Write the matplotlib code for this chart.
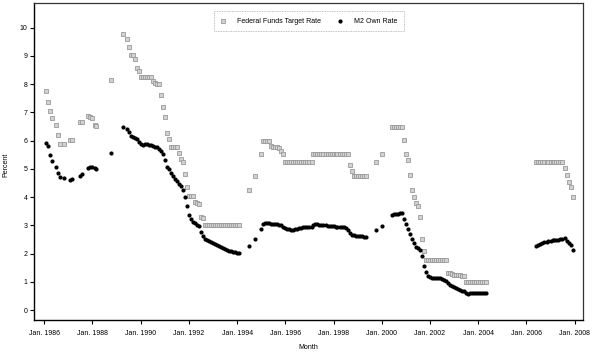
import matplotlib
matplotlib.use("Agg")
import matplotlib.pyplot as plt
import numpy as np
import pandas as pd

plt.rcParams["font.family"] = ["Liberation Sans", "DejaVu Sans"]

# months counted from Jan. 1986
FED_MONTHS = [
    1, 2, 3, 4, 6, 7, 8, 10, 13, 14, 18, 19, 22, 23, 24, 25, 26, 33,
    39, 41, 42, 43, 44, 45, 46, 47, 48, 49, 50, 51, 52, 53, 54, 55, 56, 57,
    58, 59, 60, 61, 62, 63, 64, 65, 66, 67, 68, 69, 70, 71, 72, 73, 74, 75,
    76, 77, 78, 79, 80, 81, 82, 83, 84, 85, 86, 87, 88, 89, 90, 91, 92, 93,
    94, 95, 96, 97,
    102, 105, 108, 109, 110, 111, 112, 113, 114, 115, 116, 117, 118, 119,
    120, 121, 122, 123, 124, 125, 126, 127, 128, 129, 130, 131, 132, 133,
    134, 135, 136, 137, 138, 139, 140, 141, 142, 143, 144, 145, 146, 147,
    148, 149, 150, 151, 152, 153, 154, 155, 156, 157, 158, 159, 160,
    165, 168, 173, 174, 175, 176, 177, 178, 179, 180, 181, 182, 183, 184,
    185, 186, 187, 188, 189, 190, 191, 192, 193, 194, 195, 196, 197, 198,
    199, 200, 201, 202, 203, 204, 205, 206, 207, 208, 209, 210, 211, 212,
    213, 214, 215, 216, 217, 218, 219, 220,
    245, 246, 247, 248, 249, 250, 251, 252, 253, 254, 255, 256, 257, 258,
    259, 260, 261, 262, 263,
]
FED_RATE = [
    7.77, 7.38, 7.06, 6.79, 6.56, 6.2, 5.88, 5.88, 6.03, 6.03, 6.65, 6.65,
    6.88, 6.85, 6.82, 6.56, 6.52, 8.15,
    9.78, 9.61, 9.31, 9.03, 9.03, 8.89, 8.56, 8.47, 8.25, 8.25, 8.25, 8.25,
    8.25, 8.25, 8.1, 8.03, 8.0, 8.0,
    7.62, 7.2, 6.83, 6.28, 6.05, 5.79, 5.79, 5.79, 5.79, 5.56, 5.35, 5.24,
    4.81, 4.37, 4.04, 4.04, 4.04, 3.84,
    3.79, 3.76, 3.28, 3.26, 3.0, 3.0, 3.0, 3.0, 3.0, 3.0, 3.0, 3.0, 3.0,
    3.0, 3.0, 3.0, 3.0, 3.0,
    3.0, 3.0, 3.0, 3.0,
    4.26, 4.75, 5.52, 6.0, 6.0, 6.0, 6.0, 5.82, 5.79, 5.77, 5.76, 5.75,
    5.65, 5.52,
    5.26, 5.26, 5.26, 5.26, 5.26, 5.26, 5.26, 5.26, 5.26, 5.26, 5.26, 5.26,
    5.26, 5.26,
    5.52, 5.52, 5.52, 5.52, 5.52, 5.52, 5.52, 5.52, 5.52, 5.52, 5.52, 5.52,
    5.52, 5.52,
    5.52, 5.52, 5.52, 5.52, 5.14, 4.93, 4.75, 4.75, 4.75, 4.75, 4.75, 4.75,
    4.75,
    5.26, 5.52, 6.5, 6.5, 6.5, 6.5, 6.5, 6.5, 6.03, 5.52, 5.32, 4.79, 4.26,
    4.0,
    3.79, 3.67, 3.28, 2.52, 2.1, 1.76, 1.76, 1.76, 1.76, 1.76, 1.76, 1.76,
    1.76,
    1.76, 1.76, 1.76, 1.33, 1.3, 1.28, 1.26, 1.25, 1.25, 1.23, 1.21, 1.19,
    1.0, 1.0, 1.0,
    1.0, 1.0, 1.0, 1.0, 1.0, 1.0, 1.0, 1.0,
    5.26, 5.26, 5.26, 5.26, 5.26, 5.26, 5.26, 5.26, 5.26, 5.26, 5.26, 5.26,
    5.26, 5.26,
    5.02, 4.79, 4.55, 4.35, 4.0,
]

M2_MONTHS = [
    1, 2, 3, 4, 6, 7, 8, 10, 13, 14, 18, 19, 22, 23, 24, 25, 26, 33,
    39, 41, 42, 43, 44, 45, 46, 47, 48, 49, 50, 51, 52, 53, 54, 55, 56, 57,
    58, 59, 60, 61, 62, 63, 64, 65, 66, 67, 68, 69, 70, 71, 72, 73, 74, 75,
    76, 77, 78, 79, 80, 81, 82, 83, 84, 85, 86, 87, 88, 89, 90, 91, 92, 93,
    94, 95, 96, 97,
    102, 105, 108, 109, 110, 111, 112, 113, 114, 115, 116, 117, 118, 119,
    120, 121, 122, 123, 124, 125, 126, 127, 128, 129, 130, 131, 132, 133,
    134, 135, 136, 137, 138, 139, 140, 141, 142, 143, 144, 145, 146, 147,
    148, 149, 150, 151, 152, 153, 154, 155, 156, 157, 158, 159, 160,
    165, 168, 173, 174, 175, 176, 177, 178, 179, 180, 181, 182, 183, 184,
    185, 186, 187, 188, 189, 190, 191, 192, 193, 194, 195, 196, 197, 198,
    199, 200, 201, 202, 203, 204, 205, 206, 207, 208, 209, 210, 211, 212,
    213, 214, 215, 216, 217, 218, 219, 220,
    245, 246, 247, 248, 249, 250, 251, 252, 253, 254, 255, 256, 257, 258,
    259, 260, 261, 262, 263,
]
M2_RATE = [
    5.93, 5.81, 5.5, 5.29, 5.08, 4.87, 4.71, 4.68, 4.6, 4.64, 4.76, 4.82,
    5.02, 5.06, 5.07, 5.04, 4.99, 5.58,
    6.49, 6.4, 6.32, 6.16, 6.12, 6.08, 6.05, 5.95, 5.87, 5.86, 5.88, 5.88,
    5.86, 5.84, 5.81, 5.79, 5.76, 5.72,
    5.65, 5.53, 5.3, 5.08, 4.99, 4.86, 4.75, 4.66, 4.58, 4.48, 4.38, 4.24,
    4.0, 3.69, 3.37, 3.22, 3.13, 3.08,
    3.02, 2.97, 2.75, 2.63, 2.52, 2.47, 2.44, 2.41, 2.38, 2.35, 2.32, 2.28,
    2.24, 2.21, 2.17, 2.13, 2.1, 2.08,
    2.06, 2.04, 2.03, 2.01,
    2.28, 2.5, 2.88, 3.05, 3.08, 3.08, 3.07, 3.06, 3.06, 3.05, 3.04, 3.02,
    3.0, 2.96,
    2.91, 2.88, 2.86, 2.85, 2.85, 2.86, 2.88, 2.9, 2.92, 2.93, 2.94, 2.94,
    2.95, 2.96,
    3.02, 3.04, 3.04, 3.02, 3.03, 3.02, 3.0, 2.99, 2.98, 2.97, 2.97, 2.96,
    2.96, 2.95,
    2.94, 2.93, 2.9, 2.84, 2.72, 2.67, 2.65, 2.64, 2.63, 2.62, 2.61, 2.6,
    2.6,
    2.82, 2.98, 3.38, 3.4, 3.41, 3.42, 3.44, 3.45, 3.24, 3.05, 2.88, 2.71,
    2.5, 2.36,
    2.24, 2.2, 2.14, 1.9, 1.55, 1.35, 1.22, 1.16, 1.14, 1.14, 1.14, 1.13,
    1.12, 1.1,
    1.07, 1.03, 0.97, 0.9, 0.85, 0.81, 0.78, 0.75, 0.71, 0.68, 0.66, 0.6,
    0.58, 0.6,
    0.61, 0.61, 0.61, 0.61, 0.61, 0.61, 0.62, 0.62,
    2.27, 2.3, 2.34, 2.37, 2.4, 2.42, 2.44, 2.45, 2.47, 2.48, 2.49, 2.49,
    2.5, 2.52,
    2.55, 2.43, 2.36, 2.3, 2.13,
]

TICK_YEARS = [1986, 1988, 1990, 1992, 1994, 1996, 1998, 2000, 2002, 2004, 2006, 2008]


def to_dates(months):
    m = np.asarray(months)
    return pd.to_datetime(pd.DataFrame({"year": 1986 + m // 12, "month": m % 12 + 1, "day": 1}))


fed_dates = to_dates(FED_MONTHS)
m2_dates = to_dates(M2_MONTHS)

fig = plt.figure(figsize=(6.0, 3.52), dpi=100)
ax = fig.add_axes([0.057, 0.091, 0.915, 0.9])

ax.scatter(fed_dates, FED_RATE, marker="s", s=8, facecolor="#d2d2d2",
           edgecolor="#9a9a9a", linewidth=0.6, label="Federal Funds Target Rate", zorder=2)
ax.scatter(m2_dates, M2_RATE, marker="o", s=9, color="black", linewidth=0,
           label="M2 Own Rate", zorder=3)

ax.set_ylim(-0.35, 10.87)
ax.set_xlim(pd.Timestamp("1985-08-01"), pd.Timestamp("2008-05-10"))
ax.set_yticks(range(0, 11))
ax.set_xticks([pd.Timestamp(f"{y}-01-01") for y in TICK_YEARS])
ax.set_xticklabels([f"Jan. {y}" for y in TICK_YEARS])
ax.tick_params(labelsize=5.0, length=3, width=0.8, colors="black")
ax.tick_params(axis="x", pad=4)
ax.tick_params(axis="y", pad=2)

ax.spines["left"].set_linewidth(1.0)
ax.spines["bottom"].set_linewidth(1.0)
for side in ("top", "right"):
    ax.spines[side].set_linestyle((0, (1.5, 1)))
    ax.spines[side].set_linewidth(0.9)
    ax.spines[side].set_color("#333333")

ax.set_ylabel("Percent", fontsize=5.0)
ax.yaxis.set_label_coords(-0.046, 0.49)
ax.set_xlabel("Month", fontsize=5.0)
ax.xaxis.set_label_coords(0.5, -0.075)

leg = ax.legend(loc="upper center", bbox_to_anchor=(0.5, 0.985), ncol=2, fontsize=5.0,
                frameon=True, fancybox=False, handletextpad=1.5, columnspacing=2.2,
                borderpad=0.9, handlelength=1.0)
leg.get_frame().set_edgecolor("#999999")
leg.get_frame().set_linestyle((0, (1, 1)))
leg.get_frame().set_linewidth(0.6)

fig.savefig("out.png", dpi=100)
